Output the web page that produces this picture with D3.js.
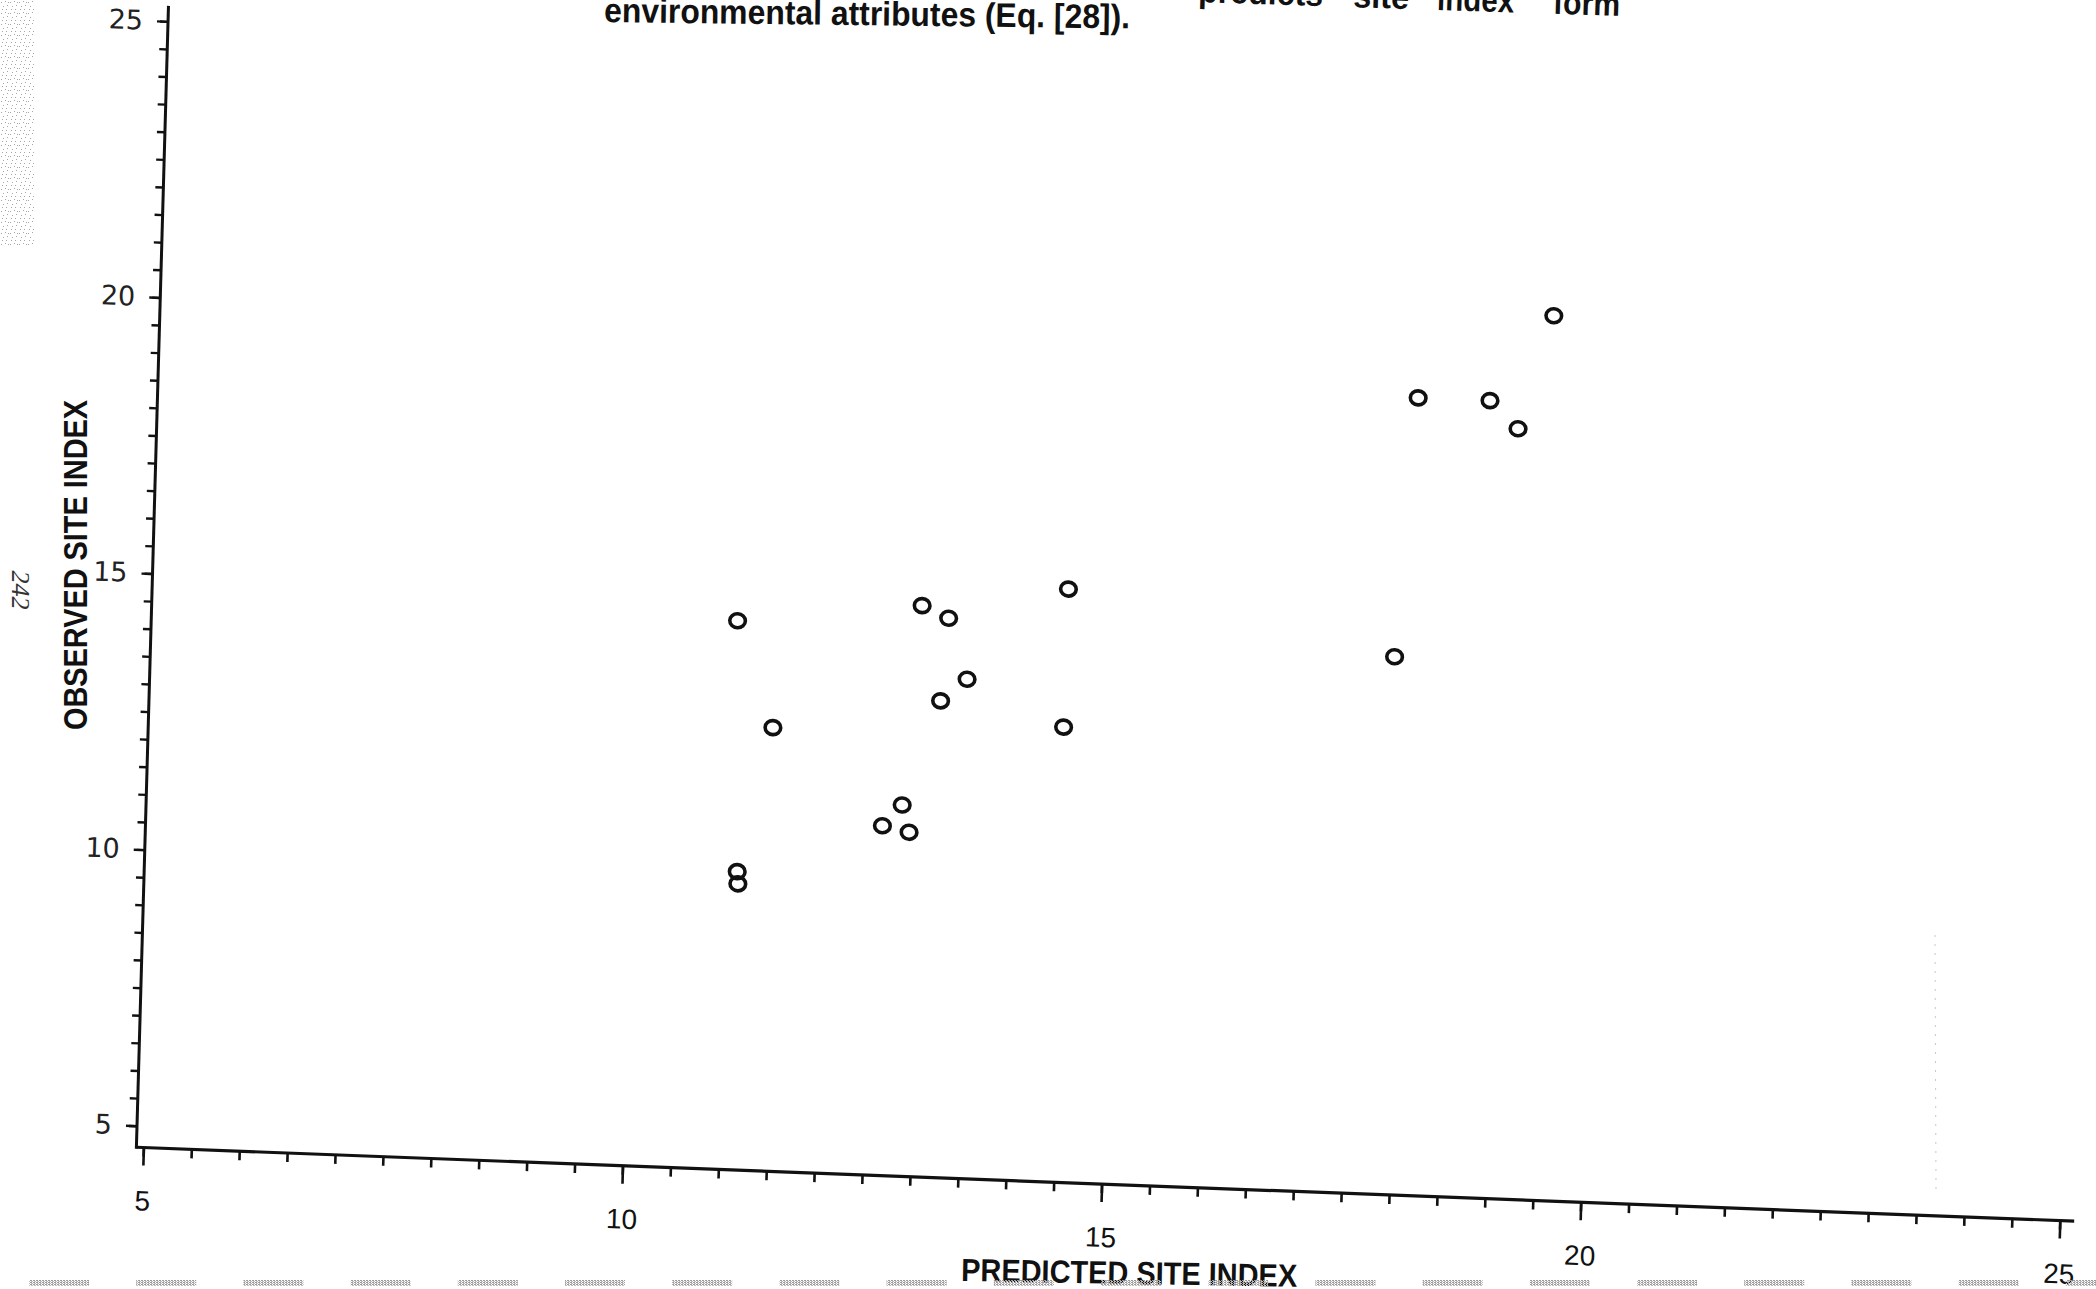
<!DOCTYPE html>
<html>
<head>
<meta charset="utf-8">
<script src="https://cdn.jsdelivr.net/npm/d3@7"></script>
<style>
  html, body { margin: 0; padding: 0; background: #fff; overflow: hidden; }
  svg { display: block; }
</style>
</head>
<body>
<svg id="chart" width="2096" height="1289"></svg>
<script>
// Observed vs predicted site index, one point per stand
const predicted = [11.04, 12.96, 13.24, 14.48, 13.45, 13.18, 11.44, 14.47, 12.81, 12.61, 12.89, 11.11, 11.12, 19.46, 18.07, 18.82, 19.12, 17.90];
const observed  = [14.55, 14.95, 14.74, 15.35, 13.65, 13.24, 12.64, 12.85, 11.33, 10.94, 10.84, 10.01, 9.79, 20.63, 19.05, 19.05, 18.56, 14.35];

const xTicks = [5, 10, 15, 20, 25];
const yTicks = [5, 10, 15, 20, 25];
const xTitle = "PREDICTED SITE INDEX";
const yTitle = "OBSERVED SITE INDEX";
const captionLine = "environmental attributes (Eq. [28]).";
const captionWords = ["predicts", "site", "index", "form"];
const pageNumber = "242";

const svg = d3.select("#chart");
const W = 2096, H = 1289;

// Scales in the plot's own frame; the page is printed slightly askew,
// so the whole frame is placed with a small shear/rotation.
const x = d3.scaleLinear().domain([5, 25]).range([0, 1916.4]);
const y = d3.scaleLinear().domain([5, 25]).range([0, -1104.4]);
const frame = { x0: 4.927, x1: 25.15, y0: 4.61, y1: 25.28 };

const plot = svg.append("g")
  .attr("transform", "matrix(1,0.0381,-0.0281,1,144,1126)");

const ink = "#111";

// ---- x axis ----
const xAxisG = plot.append("g").attr("transform", `translate(0,${y(frame.y0)})`);
xAxisG.append("g")
  .call(d3.axisBottom(x).tickValues(d3.range(5, 25.001, 0.5)).tickSize(9).tickFormat(""))
  .call(g => g.select(".domain").remove());
xAxisG.append("g")
  .call(d3.axisBottom(x).tickValues(xTicks).tickSize(18).tickPadding(25).tickFormat(d3.format("d")))
  .call(g => g.select(".domain").remove());
xAxisG.selectAll(".tick line").attr("stroke", ink).attr("stroke-width", 2.6);
xAxisG.selectAll(".tick text")
  .attr("fill", ink)
  .style("font-family", "'Liberation Sans', Arial, sans-serif")
  .style("font-size", "28px");

// ---- y axis ----
const yAxisG = plot.append("g").attr("transform", `translate(${x(frame.x0)},0)`);
yAxisG.append("g")
  .call(d3.axisLeft(y).tickValues(d3.range(5, 25.001, 0.5)).tickSize(8).tickFormat(""))
  .call(g => g.select(".domain").remove());
yAxisG.append("g")
  .call(d3.axisLeft(y).tickValues(yTicks).tickSize(11).tickPadding(14).tickFormat(d3.format("d")))
  .call(g => g.select(".domain").remove());
yAxisG.selectAll(".tick line").attr("stroke", ink).attr("stroke-width", 2.4);
yAxisG.selectAll(".tick text")
  .attr("fill", "#222")
  .style("font-family", "'DejaVu Sans', 'Liberation Sans', sans-serif")
  .style("font-size", "27px");

// axis lines
plot.append("line")
  .attr("x1", x(frame.x0)).attr("y1", y(frame.y0))
  .attr("x2", x(frame.x1)).attr("y2", y(frame.y0))
  .attr("stroke", ink).attr("stroke-width", 3.2);
plot.append("line")
  .attr("x1", x(frame.x0)).attr("y1", y(frame.y0) + 1.5)
  .attr("x2", x(frame.x0)).attr("y2", y(frame.y1))
  .attr("stroke", ink).attr("stroke-width", 3);

// ---- points ----
plot.append("g").selectAll("ellipse")
  .data(d3.range(predicted.length))
  .join("ellipse")
  .attr("cx", i => x(predicted[i]))
  .attr("cy", i => y(observed[i]))
  .attr("rx", 7.8)
  .attr("ry", 7.0)
  .attr("fill", "none")
  .attr("stroke", ink)
  .attr("stroke-width", 3.6);

// ---- axis titles ----
svg.append("text")
  .attr("x", 961).attr("y", 1281)
  .attr("transform", "rotate(1,961,1281)")
  .attr("textLength", 336).attr("lengthAdjust", "spacingAndGlyphs")
  .style("font-family", "'Liberation Sans Narrow', 'Liberation Sans', Arial, sans-serif")
  .style("font-weight", "bold").style("font-size", "32px")
  .attr("fill", ink)
  .text(xTitle);

svg.append("text")
  .attr("transform", "translate(87,565) rotate(-90)")
  .attr("text-anchor", "middle")
  .attr("textLength", 330).attr("lengthAdjust", "spacingAndGlyphs")
  .style("font-family", "'Liberation Sans Narrow', 'Liberation Sans', Arial, sans-serif")
  .style("font-weight", "bold").style("font-size", "34px")
  .attr("fill", ink)
  .text(yTitle);

// ---- caption fragments at the top edge ----
svg.append("text")
  .attr("x", 604).attr("y", 22)
  .attr("transform", "rotate(0.7,604,22)")
  .attr("textLength", 526).attr("lengthAdjust", "spacingAndGlyphs")
  .style("font-family", "'Liberation Sans Narrow', 'Liberation Sans', Arial, sans-serif")
  .style("font-weight", "bold").style("font-size", "34px")
  .attr("fill", ink)
  .text(captionLine);

const wordPos = [[1198, 125], [1353, 56], [1437, 77], [1553, 67]];
const capG = svg.append("g").attr("transform", "rotate(1.9,1198,2)");
capG.selectAll("text")
  .data(captionWords)
  .join("text")
  .attr("x", (d, i) => wordPos[i][0])
  .attr("y", 2)
  .attr("textLength", (d, i) => wordPos[i][1])
  .attr("lengthAdjust", "spacingAndGlyphs")
  .style("font-family", "'Liberation Sans Narrow', 'Liberation Sans', Arial, sans-serif")
  .style("font-weight", "bold").style("font-size", "34px")
  .attr("fill", ink)
  .text(d => d);

// page number, printed sideways
svg.append("text")
  .attr("transform", "translate(12,590) rotate(90)")
  .attr("text-anchor", "middle")
  .style("font-family", "'Liberation Serif', 'DejaVu Serif', serif")
  .style("font-style", "italic")
  .style("font-size", "26px")
  .attr("fill", "#333")
  .text(pageNumber);

// ---- faint print texture ----
const defs = svg.append("defs");
const pat = defs.append("pattern")
  .attr("id", "stipple").attr("patternUnits", "userSpaceOnUse")
  .attr("width", 9).attr("height", 11);
[[1, 2], [5, 1], [3, 6], [7, 5], [2, 9], [6, 9], [8, 2]].forEach(([px, py]) =>
  pat.append("rect").attr("x", px).attr("y", py).attr("width", 1).attr("height", 1).attr("fill", "#8a8a8a"));

svg.append("rect")
  .attr("x", 0).attr("y", 0).attr("width", 34).attr("height", 245)
  .attr("fill", "url(#stipple)").attr("opacity", 0.75);

const dashPat = defs.append("pattern")
  .attr("id", "dashTex").attr("patternUnits", "userSpaceOnUse")
  .attr("width", 3).attr("height", 2);
dashPat.append("rect").attr("width", 2).attr("height", 1).attr("fill", "#9a9a9a");
dashPat.append("rect").attr("x", 1).attr("y", 1).attr("width", 2).attr("height", 1).attr("fill", "#c0c0c0");

const bottomDashes = d3.range(0, 20).map(k => 29 + 107.2 * k).filter(v => v < W);
svg.append("g").selectAll("rect")
  .data(bottomDashes)
  .join("rect")
  .attr("x", d => d).attr("y", 1280)
  .attr("width", 60).attr("height", 6)
  .attr("fill", "url(#dashTex)");

svg.append("line")
  .attr("x1", 1935).attr("y1", 935).attr("x2", 1936).attr("y2", 1190)
  .attr("stroke", "#c8c8c8").attr("stroke-width", 1)
  .attr("stroke-dasharray", "2 7");
</script>
</body>
</html>
